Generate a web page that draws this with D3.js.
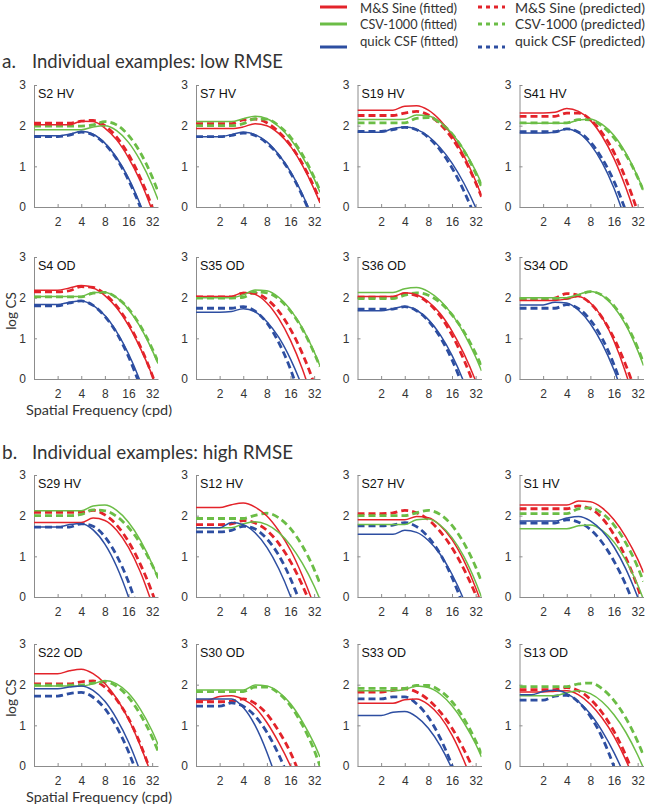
<!DOCTYPE html>
<html>
<head>
<meta charset="utf-8">
<script src="https://d3js.org/d3.v7.min.js"></script>
<style>
  body { margin: 0; background: #fff; }
  .tick text { font-family: "Liberation Sans", Arial, sans-serif; font-size: 12px; fill: #333; }
  .lbl { font-family: Lato, "Open Sans", sans-serif; fill: #333; }
</style>
</head>
<body>
<div id="chart"></div>
<script>
var freqs = [1, 1.41, 2, 2.83, 4, 5.66, 8, 11.3, 16, 22.6, 32, 38];

var panelLabels = ["S2 HV", "S7 HV", "S19 HV", "S41 HV",
                   "S4 OD", "S35 OD", "S36 OD", "S34 OD",
                   "S29 HV", "S12 HV", "S27 HV", "S1 HV",
                   "S22 OD", "S30 OD", "S33 OD", "S13 OD"];

var xTicks = [2, 4, 8, 16, 32];
var yTicks = [0, 1, 2, 3];

// log CS, one row per panel (same order as panelLabels)
var msSineFitted = [
  [2.02,2.02,2.02,2.02,2.11,2.1,1.94,1.65,1.21,0.64,-0.08,-0.48],
  [1.93,1.93,1.93,1.93,1.97,2.05,2.0,1.81,1.49,1.03,0.44,0.1],
  [2.38,2.38,2.38,2.38,2.48,2.49,2.38,2.13,1.76,1.27,0.64,0.28],
  [2.31,2.31,2.31,2.33,2.42,2.35,2.13,1.74,1.19,0.48,-0.38,-0.85],
  [2.18,2.18,2.18,2.24,2.3,2.24,2.05,1.75,1.32,0.76,0.09,-0.3],
  [2.03,2.03,2.03,2.03,2.13,2.08,1.87,1.49,0.95,0.25,-0.63,-1.1],
  [2.03,2.03,2.03,2.03,2.12,2.07,1.9,1.61,1.18,0.63,-0.05,-0.45],
  [1.93,1.93,1.93,1.93,1.97,2.03,1.87,1.51,0.93,0.15,-0.85,-1.4],
  [1.83,1.83,1.83,1.83,1.83,1.94,1.88,1.64,1.22,0.62,-0.17,-0.6],
  [2.2,2.2,2.2,2.27,2.31,2.21,1.99,1.63,1.15,0.53,-0.23,-0.7],
  [1.9,1.9,1.9,1.9,1.9,1.98,1.95,1.76,1.41,0.9,0.23,-0.16],
  [2.26,2.26,2.26,2.26,2.26,2.36,2.34,2.19,1.9,1.48,0.93,0.6],
  [2.27,2.27,2.27,2.34,2.38,2.27,2.03,1.66,1.15,0.5,-0.27,-0.7],
  [1.62,1.62,1.71,1.73,1.64,1.44,1.07,0.58,0.0,-0.7,-1.5,-1.9],
  [1.54,1.54,1.54,1.54,1.63,1.65,1.51,1.22,0.76,0.14,-0.63,-1.1],
  [1.82,1.82,1.82,1.84,1.85,1.75,1.52,1.18,0.73,0.15,-0.57,-1.0]
];
var msSinePredicted = [
  [2.06,2.06,2.06,2.06,2.11,2.13,2.0,1.72,1.29,0.72,0.0,-0.42],
  [2.05,2.05,2.05,2.05,2.14,2.16,2.07,1.85,1.52,1.07,0.49,0.16],
  [2.25,2.25,2.25,2.25,2.31,2.35,2.26,2.04,1.69,1.21,0.6,0.25],
  [2.23,2.23,2.23,2.23,2.31,2.31,2.15,1.82,1.34,0.69,-0.12,-0.6],
  [2.14,2.14,2.14,2.17,2.27,2.25,2.09,1.79,1.36,0.8,0.1,-0.3],
  [2.02,2.02,2.02,2.02,2.11,2.11,1.96,1.67,1.22,0.63,-0.12,-0.58],
  [2.01,2.01,2.01,2.01,2.1,2.05,1.87,1.55,1.08,0.48,-0.27,-0.7],
  [1.95,1.95,1.95,1.99,2.1,2.05,1.86,1.51,1.0,0.34,-0.47,-0.95],
  [2.08,2.08,2.08,2.08,2.08,2.13,2.02,1.77,1.36,0.81,0.11,-0.3],
  [1.78,1.78,1.78,1.8,1.88,1.82,1.64,1.32,0.87,0.29,-0.41,-0.8],
  [2.05,2.05,2.05,2.07,2.13,2.07,1.9,1.61,1.21,0.69,0.06,-0.3],
  [2.17,2.17,2.17,2.17,2.17,2.24,2.17,1.94,1.53,0.97,0.24,-0.19],
  [2.02,2.02,2.02,2.02,2.07,2.09,1.94,1.63,1.17,0.54,-0.25,-0.7],
  [1.58,1.58,1.58,1.59,1.65,1.54,1.28,0.86,0.33,-0.38,-1.23,-1.7],
  [1.82,1.82,1.82,1.86,1.9,1.82,1.63,1.33,0.93,0.41,-0.22,-0.6],
  [1.88,1.88,1.88,1.88,1.93,1.85,1.64,1.31,0.85,0.26,-0.48,-0.9]
];
var csvFitted = [
  [1.9,1.9,1.9,1.9,1.9,1.97,2.0,1.88,1.59,1.14,0.54,0.18],
  [2.1,2.1,2.1,2.1,2.17,2.23,2.17,1.98,1.67,1.24,0.69,0.36],
  [2.15,2.15,2.15,2.15,2.16,2.26,2.24,2.09,1.81,1.41,0.89,0.58],
  [2.06,2.06,2.06,2.06,2.06,2.14,2.16,2.03,1.76,1.33,0.75,0.41],
  [2.03,2.03,2.03,2.03,2.03,2.13,2.13,2.0,1.71,1.28,0.71,0.38],
  [2.0,2.0,2.0,2.0,2.07,2.19,2.17,2.01,1.7,1.26,0.67,0.32],
  [2.13,2.13,2.13,2.13,2.22,2.25,2.15,1.93,1.59,1.13,0.54,0.2],
  [2.0,2.0,2.0,2.0,2.0,2.08,2.15,2.05,1.77,1.33,0.7,0.33],
  [2.12,2.12,2.12,2.12,2.12,2.24,2.26,2.13,1.84,1.4,0.81,0.45],
  [1.7,1.7,1.7,1.7,1.8,1.85,1.78,1.59,1.27,0.83,0.27,-0.06],
  [1.78,1.78,1.78,1.78,1.78,1.9,1.92,1.77,1.46,1.0,0.37,0.0],
  [1.68,1.68,1.68,1.68,1.68,1.75,1.77,1.64,1.35,0.9,0.3,-0.06],
  [1.97,1.97,1.97,1.97,1.97,2.02,2.1,2.02,1.79,1.4,0.86,0.53],
  [1.87,1.87,1.87,1.87,1.87,1.99,1.97,1.82,1.53,1.1,0.55,0.22],
  [1.85,1.85,1.85,1.85,1.88,1.97,1.93,1.77,1.48,1.07,0.54,0.22],
  [1.73,1.73,1.73,1.73,1.8,1.85,1.78,1.58,1.26,0.83,0.27,-0.05]
];
var csvPredicted = [
  [1.99,1.99,1.99,1.99,1.99,2.02,2.1,2.02,1.76,1.34,0.74,0.38],
  [2.0,2.0,2.0,2.0,2.05,2.17,2.16,2.0,1.72,1.29,0.73,0.4],
  [2.07,2.07,2.07,2.07,2.07,2.18,2.2,2.07,1.8,1.39,0.83,0.5],
  [2.07,2.07,2.07,2.07,2.07,2.15,2.14,1.99,1.7,1.29,0.73,0.4],
  [2.02,2.02,2.02,2.02,2.02,2.11,2.13,2.0,1.73,1.31,0.75,0.42],
  [1.99,1.99,1.99,1.99,2.01,2.14,2.12,1.97,1.67,1.23,0.64,0.3],
  [1.98,1.98,1.98,1.98,2.06,2.12,2.06,1.88,1.58,1.17,0.63,0.32],
  [1.98,1.98,1.98,1.98,1.98,2.06,2.15,2.06,1.8,1.37,0.77,0.4],
  [2.0,2.0,2.0,2.0,2.03,2.14,2.12,1.98,1.71,1.32,0.79,0.49],
  [1.93,1.93,1.93,1.93,1.93,2.01,2.06,1.95,1.68,1.26,0.68,0.33],
  [2.0,2.0,2.0,2.0,2.0,2.07,2.13,2.03,1.76,1.33,0.74,0.38],
  [2.05,2.05,2.05,2.05,2.05,2.17,2.19,2.06,1.77,1.33,0.74,0.38],
  [1.99,1.99,1.99,1.99,1.99,2.04,2.07,1.96,1.69,1.27,0.71,0.37],
  [1.83,1.83,1.83,1.83,1.83,1.94,1.94,1.79,1.48,1.01,0.39,0.0],
  [1.91,1.91,1.91,1.91,1.91,1.98,1.98,1.85,1.58,1.17,0.62,0.3],
  [1.95,1.95,1.95,1.95,1.95,2.02,2.04,1.9,1.61,1.18,0.6,0.26]
];
var quickFitted = [
  [1.75,1.75,1.75,1.79,1.86,1.79,1.57,1.21,0.71,0.06,-0.73,-1.18],
  [1.73,1.73,1.73,1.78,1.84,1.78,1.6,1.29,0.87,0.32,-0.35,-0.72],
  [1.84,1.84,1.84,1.93,1.97,1.91,1.74,1.46,1.08,0.59,-0.01,-0.35],
  [1.82,1.82,1.82,1.84,1.92,1.82,1.54,1.09,0.46,-0.35,-1.3,-1.8],
  [1.83,1.83,1.83,1.89,1.92,1.81,1.56,1.16,0.62,-0.06,-0.9,-1.4],
  [1.64,1.64,1.64,1.66,1.73,1.65,1.41,1.03,0.49,-0.19,-1.0,-1.5],
  [1.68,1.68,1.68,1.73,1.78,1.69,1.46,1.09,0.58,-0.07,-0.9,-1.4],
  [1.82,1.82,1.82,1.89,1.87,1.69,1.36,0.87,0.22,-0.58,-1.5,-2],
  [1.72,1.72,1.72,1.78,1.81,1.65,1.3,0.75,0.0,-0.92,-2,-2.5],
  [1.7,1.7,1.7,1.83,1.78,1.58,1.22,0.7,0.02,-0.82,-1.8,-2.3],
  [1.54,1.54,1.54,1.54,1.64,1.59,1.39,1.05,0.56,-0.07,-0.9,-1.4],
  [1.87,1.87,1.87,1.87,1.94,1.98,1.87,1.62,1.23,0.69,0.0,-0.38],
  [1.9,1.9,1.9,1.94,1.97,1.86,1.59,1.16,0.59,-0.14,-1.0,-1.5],
  [1.65,1.65,1.65,1.65,1.44,1.0,0.34,-0.5,-1.5,-2.6,-3.9,-4.6],
  [1.24,1.24,1.24,1.32,1.34,1.21,0.93,0.5,-0.08,-0.9,-1.8,-2.3],
  [1.75,1.75,1.83,1.86,1.78,1.58,1.28,0.86,0.33,-0.31,-1.1,-1.5]
];
var quickPredicted = [
  [1.73,1.73,1.73,1.77,1.84,1.77,1.55,1.18,0.66,0.0,-0.81,-1.27],
  [1.73,1.73,1.73,1.76,1.82,1.76,1.57,1.27,0.84,0.28,-0.4,-0.78],
  [1.86,1.86,1.86,1.9,1.96,1.9,1.71,1.4,0.96,0.4,-0.29,-0.69],
  [1.85,1.85,1.85,1.85,1.92,1.84,1.6,1.19,0.63,-0.1,-1.0,-1.5],
  [1.8,1.8,1.8,1.87,1.92,1.81,1.54,1.13,0.55,-0.18,-1.0,-1.5],
  [1.74,1.74,1.74,1.74,1.78,1.67,1.38,0.9,0.24,-0.62,-1.5,-2],
  [1.72,1.72,1.72,1.72,1.78,1.68,1.43,1.03,0.47,-0.24,-1.1,-1.6],
  [1.74,1.74,1.74,1.74,1.83,1.73,1.45,1.0,0.35,-0.47,-1.4,-1.9],
  [1.72,1.72,1.72,1.72,1.8,1.74,1.48,1.02,0.37,-0.49,-1.5,-2],
  [1.6,1.6,1.6,1.64,1.74,1.67,1.43,1.03,0.45,-0.29,-1.2,-1.7],
  [1.75,1.75,1.75,1.77,1.83,1.73,1.47,1.06,0.48,-0.25,-1.1,-1.6],
  [1.82,1.82,1.82,1.82,1.9,1.84,1.66,1.34,0.88,0.3,-0.42,-0.8],
  [1.72,1.72,1.72,1.78,1.81,1.69,1.41,0.96,0.35,-0.42,-1.3,-1.8],
  [1.47,1.47,1.47,1.55,1.47,1.23,0.83,0.28,-0.42,-1.3,-2.2,-2.7],
  [1.65,1.65,1.65,1.7,1.7,1.53,1.2,0.69,0.01,-0.85,-1.8,-2.3],
  [1.62,1.62,1.62,1.72,1.74,1.57,1.22,0.7,-0.02,-0.9,-1.9,-2.4]
];

var red = "#e3232a", green = "#6bbd46", blue = "#2d4ea1";

var series = [
  {name: "M&S Sine (fitted)",     data: msSineFitted,    color: red,   dashed: false, len: 97},
  {name: "CSV-1000 (fitted)",     data: csvFitted,       color: green, dashed: false, len: 97},
  {name: "quick CSF (fitted)",    data: quickFitted,     color: blue,  dashed: false, len: 98},
  {name: "M&S Sine (predicted)",  data: msSinePredicted, color: red,   dashed: true,  len: 130},
  {name: "CSV-1000 (predicted)",  data: csvPredicted,    color: green, dashed: true,  len: 130},
  {name: "quick CSF (predicted)", data: quickPredicted,  color: blue,  dashed: true,  len: 130}
];

var W = 647, H = 806;
var colX = [34, 196, 357.5, 519.5];
var rowTop = [85, 257, 475, 644];
var pw = 124, ph = 122;

var svg = d3.select("#chart").append("svg")
    .attr("width", W).attr("height", H)
    .style("display", "block");

svg.append("defs").append("clipPath").attr("id", "plotclip")
  .append("rect").attr("x", 0).attr("y", -2).attr("width", pw).attr("height", ph + 2);

var x = d3.scaleLog().domain([1, 38]).range([0, pw]);
var y = d3.scaleLinear().domain([0, 3]).range([ph, 0]);

var line = d3.line()
    .x(function(d) { return x(d[0]); })
    .y(function(d) { return y(d[1]); })
    .curve(d3.curveMonotoneX);

// section titles
var titles = [
  {k: "a.", t: "Individual examples: low RMSE", y: 68, len: 251},
  {k: "b.", t: "Individual examples: high RMSE", y: 459, len: 261}
];
titles.forEach(function(t) {
  svg.append("text").attr("class", "lbl").attr("x", 2).attr("y", t.y)
    .style("font-size", "19px").text(t.k);
  svg.append("text").attr("class", "lbl").attr("x", 32).attr("y", t.y)
    .style("font-size", "19px")
    .attr("textLength", t.len).attr("lengthAdjust", "spacingAndGlyphs")
    .text(t.t);
});

// legend
var legY = [8, 24.5, 41], legLineY = [7, 24, 47];
series.forEach(function(s, i) {
  var r = i % 3, c = Math.floor(i / 3);
  var lx = c === 0 ? 320 : 478;
  svg.append("line")
    .attr("x1", lx).attr("x2", lx + 27)
    .attr("y1", legLineY[r]).attr("y2", legLineY[r])
    .attr("stroke", s.color).attr("stroke-width", 3)
    .attr("stroke-dasharray", s.dashed ? "4,4" : null);
  svg.append("text").attr("class", "lbl")
    .attr("x", c === 0 ? 360 : 515).attr("y", legY[r] + 4.5)
    .style("font-size", "12.5px")
    .attr("textLength", s.len).attr("lengthAdjust", "spacingAndGlyphs")
    .text(s.name);
});

// panels
panelLabels.forEach(function(label, p) {
  var r = Math.floor(p / 4), c = p % 4;
  var g = svg.append("g").attr("transform", "translate(" + colX[c] + "," + rowTop[r] + ")");

  var xa = g.append("g").attr("transform", "translate(0," + ph + ")")
    .call(d3.axisBottom(x).tickValues(xTicks).tickFormat(d3.format("d"))
      .tickSize(-3).tickSizeOuter(0).tickPadding(10));
  var ya = g.append("g")
    .call(d3.axisLeft(y).tickValues(yTicks).tickFormat(d3.format("d"))
      .tickSize(-3).tickSizeOuter(0).tickPadding(8));
  [xa, ya].forEach(function(a) {
    a.select(".domain").attr("stroke", "#8c8c8c");
    a.selectAll(".tick line").attr("stroke", "#8c8c8c");
    a.attr("font-family", null).attr("font-size", null);
  });

  var plot = g.append("g").attr("clip-path", "url(#plotclip)");
  // predicted (dashed) underneath, fitted (solid) on top
  [3, 4, 5, 0, 1, 2].forEach(function(si) {
    var s = series[si];
    var pts = freqs.map(function(f, j) { return [f, s.data[p][j]]; });
    plot.append("path")
      .datum(pts)
      .attr("d", line)
      .attr("fill", "none")
      .attr("stroke", s.color)
      .attr("stroke-width", s.dashed ? 2.8 : 1.5)
      .attr("stroke-dasharray", s.dashed ? "7,4" : null);
  });

  g.append("text")
    .attr("x", 4).attr("y", 13)
    .style("font-family", "'Liberation Sans', Arial, sans-serif")
    .style("font-size", "12.5px").attr("fill", "#111")
    .text(label);

  if (c === 0 && (r === 1 || r === 3)) {
    g.append("text").attr("class", "lbl")
      .attr("transform", "translate(" + (-23) + "," + (ph / 2 - 7) + ") rotate(-90)")
      .attr("text-anchor", "middle")
      .attr("dy", "0.35em")
      .style("font-size", "13.5px")
      .text("log CS");
    g.append("text").attr("class", "lbl")
      .attr("x", 65).attr("y", ph + 36)
      .attr("text-anchor", "middle")
      .style("font-size", "14px")
      .attr("textLength", 146).attr("lengthAdjust", "spacingAndGlyphs")
      .text("Spatial Frequency (cpd)");
  }
});
</script>
</body>
</html>
